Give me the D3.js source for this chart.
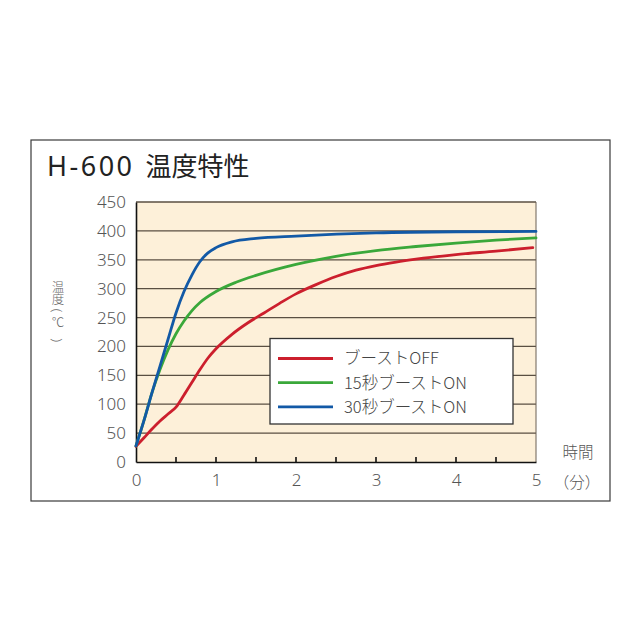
<!DOCTYPE html>
<html><head><meta charset="utf-8">
<script src="https://cdn.jsdelivr.net/npm/d3@7"></script>
<style>
html,body{margin:0;padding:0;background:#fff;}
svg{display:block;}
text{font-family:"Noto Sans CJK JP","Noto Sans",sans-serif;}
</style></head>
<body>
<svg id="c" width="640" height="640"></svg>
<script>
// ---- data ----
const titleCode = "H-600";
const titleText = "温度特性";
const seriesNames = ["ブーストOFF", "15秒ブーストON", "30秒ブーストON"];
const seriesColors = ["#cc1f2d", "#3aa83a", "#1259a6"];
const tOff = [0, 0.1, 0.2, 0.3, 0.4, 0.5, 0.6, 0.7, 0.8, 0.9, 1.0, 1.2, 1.4, 1.6, 1.8, 2.0, 2.25, 2.5, 2.75, 3.0, 3.25, 3.5, 4.0, 4.5, 4.96];
const vOff = [27, 42, 57, 71, 83, 95, 116, 138, 160, 180, 196, 221, 241, 258, 275, 291, 307, 321, 332, 340, 346, 351, 359, 365, 371];
const t15 = [0, 0.1, 0.2, 0.3, 0.4, 0.5, 0.6, 0.7, 0.8, 1.0, 1.25, 1.5, 2.0, 2.5, 3.0, 3.5, 4.0, 4.5, 5.0];
const v15 = [28, 72, 120, 160, 194, 222, 244, 262, 276, 295, 311, 323, 342, 356, 366, 373, 379, 384, 388];
const t30 = [0, 0.1, 0.2, 0.3, 0.4, 0.5, 0.6, 0.7, 0.8, 0.9, 1.0, 1.2, 1.5, 2.0, 3.0, 4.0, 5.0];
const v30 = [28, 72, 120, 166, 212, 258, 295, 324, 347, 362, 371, 381, 387, 391, 396.5, 398.5, 399];
const yTicks = [0, 50, 100, 150, 200, 250, 300, 350, 400, 450];
const xTicks = [0, 1, 2, 3, 4, 5];
const xMinorTicks = [0.5, 1, 1.5, 2, 2.5, 3, 3.5, 4, 4.5];
const yLabelChars = ["温", "度", "(", "℃", ")"];
const xLabel1 = "時間";
const xLabel2 = "（分）";

// ---- drawing ----
const svg = d3.select("#c");
const x = d3.scaleLinear().domain([0, 5]).range([136, 536]);
const y = d3.scaleLinear().domain([0, 450]).range([462, 202]);

// outer frame
svg.append("rect").attr("x", 31).attr("y", 140).attr("width", 579).attr("height", 361)
  .attr("fill", "#fff").attr("stroke", "#3a3a3a").attr("stroke-width", 1.2);

// title
const tt = svg.append("text").attr("x", 47).attr("y", 176).attr("font-size", 26).attr("fill", "#222");
tt.append("tspan").style("font-family", "'Noto Sans',sans-serif").style("font-weight", 400)
  .attr("font-size", 27).attr("letter-spacing", 2.5).text(titleCode);
tt.append("tspan").attr("dx", 11).style("font-weight", 400).text(titleText);

// plot background
svg.append("rect").attr("x", x(0)).attr("y", y(450)).attr("width", x(5) - x(0)).attr("height", y(0) - y(450))
  .attr("fill", "#fdf0d9");

// gridlines
svg.append("g").selectAll("line").data(yTicks.filter(d => d > 0)).join("line")
  .attr("x1", x(0)).attr("x2", x(5)).attr("y1", d => y(d)).attr("y2", d => y(d))
  .attr("stroke", "#5a4f42").attr("stroke-width", 1.3);
// right border
svg.append("line").attr("x1", x(5)).attr("x2", x(5)).attr("y1", y(450)).attr("y2", y(0))
  .attr("stroke", "#6a6055").attr("stroke-width", 1);

// axes
const yAxis = d3.axisLeft(y).tickValues(yTicks).tickSize(0).tickPadding(10);
const gy = svg.append("g").attr("transform", `translate(${x(0)},0)`).call(yAxis);
gy.select(".domain").attr("stroke", "#111").attr("stroke-width", 1.6);
gy.selectAll("text").attr("font-size", 17).attr("fill", "#555")
  .style("font-family", "'Noto Sans','DejaVu Sans',sans-serif").style("font-weight", 300);

const xAxis = d3.axisBottom(x).tickValues(xTicks).tickSize(0).tickPadding(12).tickFormat(d3.format("d"));
const gx = svg.append("g").attr("transform", `translate(0,${y(0)})`).call(xAxis);
gx.select(".domain").attr("stroke", "#111").attr("stroke-width", 1.6);
gx.selectAll("text").attr("font-size", 17).attr("fill", "#555")
  .style("font-family", "'Noto Sans','DejaVu Sans',sans-serif").style("font-weight", 300);
// inward minor ticks
svg.append("g").selectAll("line").data(xMinorTicks).join("line")
  .attr("x1", d => x(d)).attr("x2", d => x(d)).attr("y1", y(0)).attr("y2", y(0) - 5)
  .attr("stroke", "#111").attr("stroke-width", 1.6);

// lines
const line = d3.line().x(d => x(d[0])).y(d => y(d[1])).curve(d3.curveMonotoneX);
const series = [
  d3.zip(tOff, vOff),
  d3.zip(t15, v15),
  d3.zip(t30, v30)
];
svg.append("g").selectAll("path").data(series).join("path")
  .attr("d", line).attr("fill", "none")
  .attr("stroke", (d, i) => seriesColors[i]).attr("stroke-width", 2.8)
  .attr("stroke-linejoin", "round").attr("stroke-linecap", "round");

// legend
const lg = svg.append("g");
lg.append("rect").attr("x", 270).attr("y", 338.5).attr("width", 243).attr("height", 85.5)
  .attr("fill", "#fff").attr("stroke", "#333").attr("stroke-width", 1.3);
const rows = lg.selectAll("g.row").data(seriesNames).join("g").attr("class", "row")
  .attr("transform", (d, i) => `translate(0,${358.5 + i * 24.2})`);
rows.append("line").attr("x1", 278).attr("x2", 333).attr("y1", 0).attr("y2", 0)
  .attr("stroke", (d, i) => seriesColors[i]).attr("stroke-width", 2.8);
rows.append("text").attr("x", 344).attr("y", 0).attr("dy", "0.36em")
  .attr("font-size", 16.5).attr("fill", "#444").style("font-weight", 300).text(d => d);

// y label (stacked vertically; parentheses turned for vertical setting)
const yPos = [286.5, 298, 310.5, 321, 340];
const yRot = [0, 0, 90, 0, 90];
svg.append("g").selectAll("text").data(yLabelChars).join("text")
  .attr("transform", (d, i) => `translate(58,${yPos[i]}) rotate(${yRot[i]})`)
  .attr("dominant-baseline", "central").attr("text-anchor", "middle")
  .attr("font-size", (d, i) => yRot[i] ? 13.5 : 12.5).attr("fill", "#666").style("font-weight", 300)
  .style("font-family", (d, i) => yRot[i] ? "'Noto Sans',sans-serif" : null)
  .text(d => d);

// x label
svg.append("text").attr("x", 578).attr("y", 452).attr("dy", "0.36em").attr("text-anchor", "middle")
  .attr("font-size", 15.5).attr("fill", "#555").style("font-weight", 300).text(xLabel1);
svg.append("text").attr("x", 577).attr("y", 482).attr("dy", "0.36em").attr("text-anchor", "middle")
  .attr("font-size", 15.5).attr("fill", "#555").style("font-weight", 300).text(xLabel2);
</script>
</body></html>
